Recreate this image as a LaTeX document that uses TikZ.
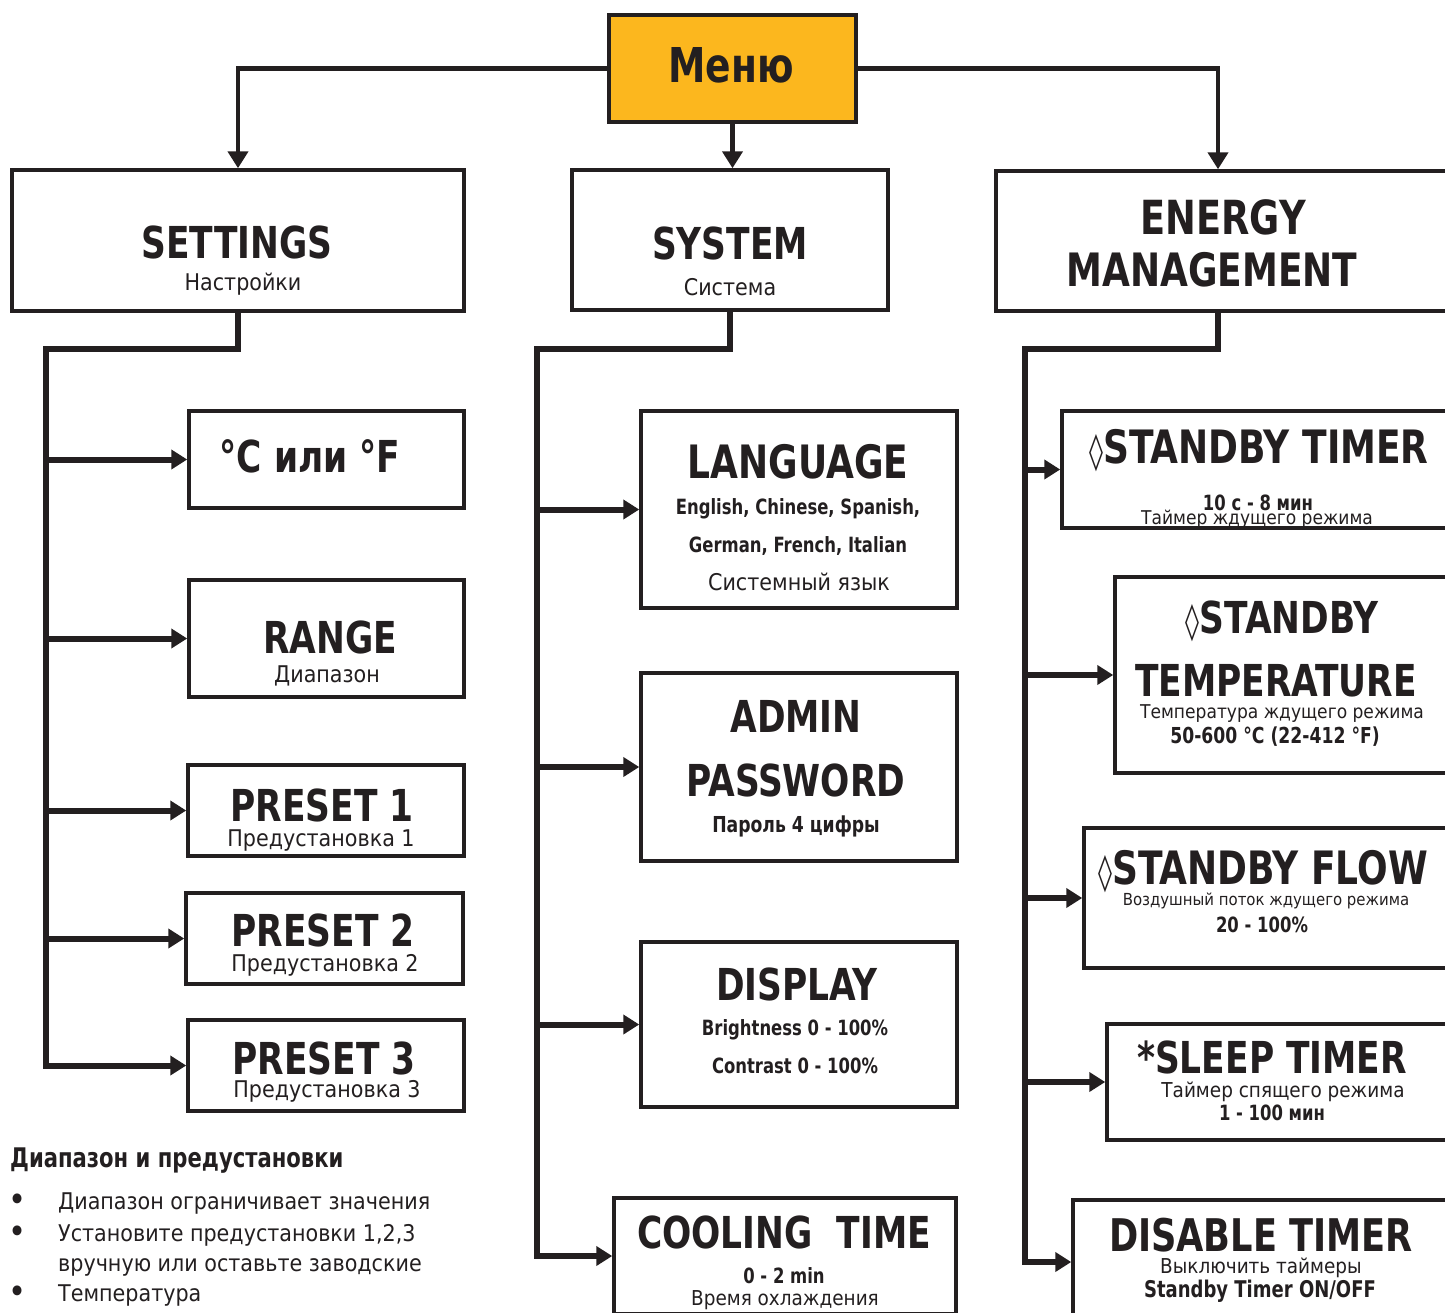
\documentclass[tikz,border=0pt]{standalone}
\usepackage{fontspec}
\setmainfont{DejaVu Sans Condensed}[BoldFeatures={FakeStretch=0.87}]
\usepackage{tikz}
\usetikzlibrary{arrows.meta}
\definecolor{ink}{RGB}{35,31,32}
\definecolor{menuorange}{RGB}{252,183,30}
\newcommand{\loz}{{\fontsize{36}{36}\selectfont ◊}}
\tikzset{
box/.style={draw=ink, line width=3.5pt, inner sep=0pt, fill=white}, % every framed item
link/.style={draw=ink, line width=4.5pt, -{Triangle[length=17pt,width=20pt]}}, % from the menu down
bus/.style={draw=ink, line width=6pt, -{Triangle[length=16pt,width=19pt]}}, % the three trunk lines
lbl/.style={anchor=base, inner sep=0pt, text=ink},
head/.style={lbl, font=\bfseries\fontsize{44}{46}\selectfont},
mid/.style={lbl, font=\fontsize{23}{25}\selectfont},
small/.style={lbl, font=\bfseries\fontsize{21}{23}\selectfont},
note/.style={anchor=base west, inner sep=0pt, text=ink, font=\fontsize{23}{25}\selectfont},
}

\begin{document}
\begin{tikzpicture}[x=1pt, y=-1pt]
	\useasboundingbox (0,0) rectangle (1445,1312);
	\clip (0,0) rectangle (1445,1312);
	% top row
	\node[box, fill=menuorange, minimum width=247pt, minimum height=107pt] (menu) at (732.5,68.5) {};
	\node[box, minimum width=452pt, minimum height=141pt] (settings) at (238,240.5) {};
	\node[box, minimum width=316pt, minimum height=140pt] (system) at (730,240) {};
	\node[box, minimum width=464pt, minimum height=140pt] (energy) at (1228,241) {};
	% settings column
	\node[box, minimum width=275pt, minimum height=97pt] (cf) at (326.5,459.5) {};
	\node[box, minimum width=275pt, minimum height=117pt] (range) at (326.5,638.5) {};
	\node[box, minimum width=276pt, minimum height=91pt] (pre1) at (326,810.5) {};
	\node[box, minimum width=277pt, minimum height=91pt] (pre2) at (324.5,938.5) {};
	\node[box, minimum width=276pt, minimum height=91pt] (pre3) at (326,1065.5) {};
	% system column
	\node[box, minimum width=316pt, minimum height=197pt] (lang) at (799,509.5) {};
	\node[box, minimum width=316pt, minimum height=188pt] (admin) at (799,767) {};
	\node[box, minimum width=316pt, minimum height=165pt] (disp) at (799,1024.5) {};
	\node[box, minimum width=342pt, minimum height=116pt] (cool) at (785,1256) {};
	% energy column
	\node[box, minimum width=398pt, minimum height=117pt] (stimer) at (1261,469.5) {};
	\node[box, minimum width=345pt, minimum height=196pt] (stemp) at (1287.5,675) {};
	\node[box, minimum width=376pt, minimum height=140pt] (sflow) at (1272,898) {};
	\node[box, minimum width=353pt, minimum height=116pt] (sleep) at (1283.5,1082) {};
	\node[box, minimum width=387pt, minimum height=124pt] (disable) at (1266.5,1262) {};

	\coordinate (sb) at (46,349);
	\coordinate (yb) at (537,349);
	\coordinate (eb) at (1025,349);

	\draw[link] (menu.west) -| (settings.north);
	\draw[link] (menu.south) -- (menu.south |- system.north);
	\draw[link] (menu.east) -| ([xshift=-10pt]energy.north);

	\draw[bus] (settings.south) |- (sb) |- (pre3.west);
	\foreach \n in {cf,range,pre1,pre2}
		\draw[bus] (sb |- \n.west) -- (\n.west);
	\draw[bus] (system.south) |- (yb) |- (cool.west);
	\foreach \n in {lang,admin,disp}
		\draw[bus] (yb |- \n.west) -- (\n.west);
	\draw[bus] ([xshift=-10pt]energy.south) |- (eb) |- (disable.west);
	\foreach \n in {stimer,stemp,sflow,sleep}
		\draw[bus] (eb |- \n.west) -- (\n.west);

	% labels
	\node[head, font=\bfseries\fontsize{48}{50}\selectfont] (menu-t) at (731,82) {Меню};
	\node[head] (settings-t) at (237,258) {SETTINGS};
	\node[mid] (settings-s) at (243,290) {Настройки};
	\node[head] (system-t) at (730,259) {SYSTEM};
	\node[mid] (system-s) at (730,295) {Система};
	\node[head, font=\bfseries\fontsize{47}{49}\selectfont] (energy-t) at (1223,234) {ENERGY};
	\node[head, font=\bfseries\fontsize{46}{48}\selectfont] (energy-u) at (1212,286) {MANAGEMENT};

	\node[head] (cf-t) at (310,472) {°C или °F};
	\node[head] (range-t) at (330,653) {RANGE};
	\node[mid] (range-s) at (327,682) {Диапазон};
	\node[head] (pre1-t) at (322,821) {PRESET 1};
	\node[mid] (pre1-s) at (321,846) {Предустановка 1};
	\node[head] (pre2-t) at (323,946) {PRESET 2};
	\node[mid] (pre2-s) at (325,971) {Предустановка 2};
	\node[head] (pre3-t) at (324,1074) {PRESET 3};
	\node[mid] (pre3-s) at (327,1097) {Предустановка 3};

	\node[head, font=\bfseries\fontsize{46}{48}\selectfont] (lang-t) at (798,478) {LANGUAGE};
	\node[small] (lang-a) at (798,514) {English, Chinese, Spanish,};
	\node[small] (lang-b) at (798,552) {German, French, Italian};
	\node[mid] (lang-s) at (799,590) {Системный язык};
	\node[head] (admin-t) at (796,732) {ADMIN};
	\node[head] (admin-u) at (796,796) {PASSWORD};
	\node[small, font=\bfseries\fontsize{22}{24}\selectfont] (admin-s) at (796,832) {Пароль 4 цифры};
	\node[head] (disp-t) at (797,1000) {DISPLAY};
	\node[small] (disp-a) at (795,1035) {Brightness 0 - 100\%};
	\node[small] (disp-b) at (795,1073) {Contrast 0 - 100\%};
	\node[head] (cool-t) at (784,1248) {COOLING\ \ TIME};
	\node[small] (cool-a) at (784,1283) {0 - 2 min};
	\node[mid, font=\fontsize{20.5}{22}\selectfont] (cool-s) at (785,1305) {Время охлаждения};

	\node[head, font=\bfseries\fontsize{46}{48}\selectfont] (stimer-t) at (1259,463) {\loz STANDBY TIMER};
	\node[small] (stimer-a) at (1258,510) {10 с - 8 мин};
	\node[mid, font=\fontsize{19}{21}\selectfont] (stimer-s) at (1257,524) {Таймер ждущего режима};
	\node[head] (stemp-t) at (1282,633) {\loz STANDBY};
	\node[head] (stemp-u) at (1276,696) {TEMPERATURE};
	\node[mid, font=\fontsize{19}{21}\selectfont] (stemp-s) at (1282,718) {Температура ждущего режима};
	\node[small, font=\bfseries\fontsize{22}{24}\selectfont] (stemp-a) at (1275,743) {50-600 °C (22-412 °F)};
	\node[head, font=\bfseries\fontsize{46}{48}\selectfont] (sflow-t) at (1263,884) {\loz STANDBY FLOW};
	\node[mid, font=\fontsize{16.6}{18}\selectfont] (sflow-s) at (1266,905) {Воздушный поток ждущего режима};
	\node[small] (sflow-a) at (1262,932) {20 - 100\%};
	\node[head] (sleep-t) at (1272,1073) {*SLEEP TIMER};
	\node[mid, font=\fontsize{20.5}{22}\selectfont] (sleep-s) at (1283,1097) {Таймер спящего режима};
	\node[small] (sleep-a) at (1272,1120) {1 - 100 мин};
	\node[head, font=\bfseries\fontsize{45}{47}\selectfont] (disable-t) at (1261,1251) {DISABLE TIMER};
	\node[mid, font=\fontsize{20.5}{22}\selectfont] (disable-s) at (1261,1273) {Выключить таймеры};
	\node[small, font=\bfseries\fontsize{23}{25}\selectfont] (disable-a) at (1260,1297) {Standby Timer ON/OFF};

	% notes under the settings column
	\node[note, font=\bfseries\fontsize{27}{29}\selectfont] (notes) at (10,1167) {Диапазон и предустановки};
	\foreach \y/\txt in {1209/{Диапазон ограничивает значения}, 1241/{Установите предустановки 1,2,3}, 1271/{вручную или оставьте заводские}, 1301/{Температура}}
		\node[note] at (58,\y) {\txt};
	\foreach \y in {1209,1241,1301}
		\node[lbl, font=\fontsize{34}{34}\selectfont] at (18,\y+2) {•};
\end{tikzpicture}
\end{document}
